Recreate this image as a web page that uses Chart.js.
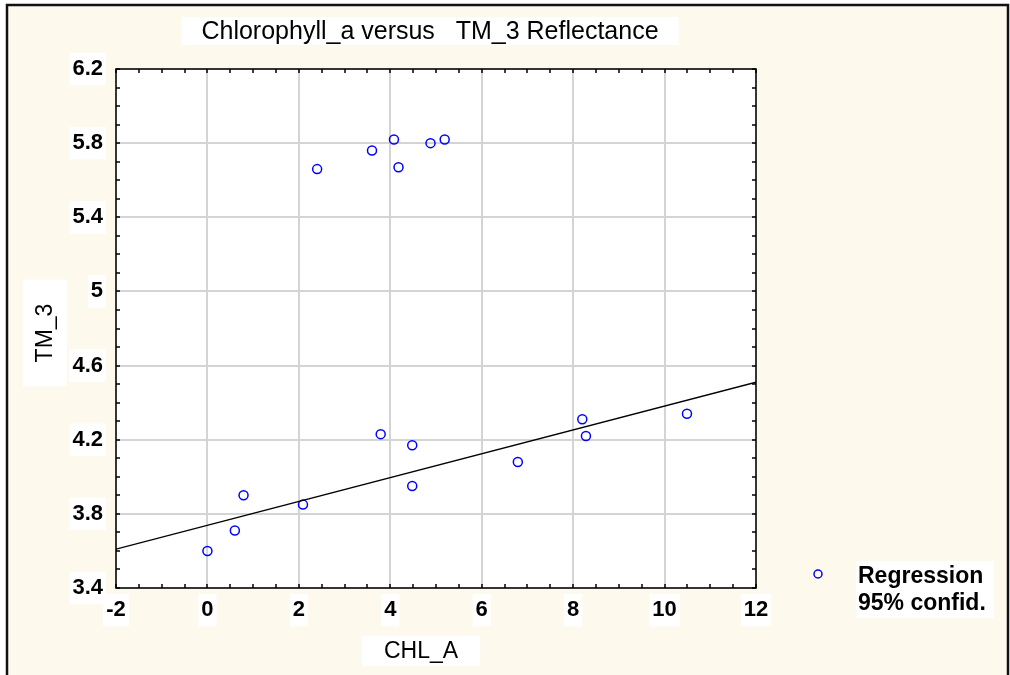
<!DOCTYPE html>
<html>
<head>
<meta charset="utf-8">
<script src="https://cdn.jsdelivr.net/npm/chart.js@4/dist/chart.umd.min.js"></script>
<style>
  html, body { margin: 0; padding: 0; background: #fff; }
  #wrap { width: 1010px; height: 675px; position: relative; }
</style>
</head>
<body>
<div id="wrap"><canvas id="chart" width="1010" height="675"></canvas></div>
<script>
const chlA = [2.40, 3.60, 4.08, 4.18, 4.88, 5.19, 0.00, 0.60, 0.79, 2.09, 3.79, 4.48, 4.48, 6.79, 8.20, 8.28, 10.49];
const tm3  = [5.66, 5.76, 5.82, 5.67, 5.80, 5.82, 3.60, 3.71, 3.90, 3.85, 4.23, 4.17, 3.95, 4.08, 4.31, 4.22, 4.34];

// Regression line end points
const regX = [-2, 12];
const regY = [3.61, 4.51];

// Axis settings
const xTicks = [-2, 0, 2, 4, 6, 8, 10, 12];
const yTicks = [3.4, 3.8, 4.2, 4.6, 5, 5.4, 5.8, 6.2];

const title = 'Chlorophyll_a versus   TM_3 Reflectance';
const xTitle = 'CHL_A';
const yTitle = 'TM_3';
const legendLines = ['Regression', '95% confid.'];

const cream = '#fef9ed';
const pointBlue = '#0000ff';
const fontFamily = '"Liberation Sans", Arial, sans-serif';

// Background, frame, minor ticks, titles and legend
const decorations = {
  id: 'decorations',
  beforeDraw(chart) {
    const ctx = chart.ctx;
    ctx.save();
    ctx.fillStyle = '#ffffff';
    ctx.fillRect(0, 0, chart.width, chart.height);
    ctx.fillStyle = cream;
    ctx.fillRect(7, 5, 1002, 670);
    ctx.strokeStyle = '#111';
    ctx.lineWidth = 2.5;
    ctx.beginPath();
    ctx.moveTo(7, 675);
    ctx.lineTo(7, 5);
    ctx.lineTo(1008, 5);
    ctx.lineTo(1008, 675);
    ctx.stroke();

    const a = chart.chartArea;
    ctx.fillStyle = '#ffffff';
    ctx.fillRect(a.left, a.top, a.right - a.left, a.bottom - a.top);
    ctx.restore();
  },
  afterDraw(chart) {
    const ctx = chart.ctx;
    const a = chart.chartArea;
    const xs = chart.scales.x;
    const ys = chart.scales.y;
    ctx.save();

    // frame round the plot
    ctx.strokeStyle = '#000';
    ctx.lineWidth = 1.5;
    ctx.strokeRect(a.left, a.top, a.right - a.left, a.bottom - a.top);

    // inward ticks on all four sides
    ctx.lineWidth = 1.5;
    ctx.beginPath();
    for (let v = xs.min; v <= xs.max + 1e-9; v += 0.5) {
      const px = Math.round(xs.getPixelForValue(v));
      ctx.moveTo(px, a.bottom); ctx.lineTo(px, a.bottom - 4);
      ctx.moveTo(px, a.top); ctx.lineTo(px, a.top + 4);
    }
    for (let v = ys.min; v <= ys.max + 1e-9; v += 0.1) {
      const py = Math.round(ys.getPixelForValue(v));
      ctx.moveTo(a.left, py); ctx.lineTo(a.left + 4, py);
      ctx.moveTo(a.right, py); ctx.lineTo(a.right - 4, py);
    }
    ctx.stroke();

    const box = (text, cx, cy, font, padX, padY, rot) => {
      ctx.save();
      ctx.font = font;
      ctx.translate(cx, cy);
      if (rot) ctx.rotate(rot);
      const w = ctx.measureText(text).width;
      ctx.fillStyle = '#fff';
      ctx.fillRect(-w / 2 - padX, -13 - padY, w + padX * 2, 26 + padY * 2);
      ctx.fillStyle = '#000';
      ctx.textAlign = 'center';
      ctx.textBaseline = 'middle';
      ctx.fillText(text, 0, 1);
      ctx.restore();
    };

    box(title, 430, 31, '25px ' + fontFamily, 20, 1);
    box(xTitle, 421, 651, '23px ' + fontFamily, 22, 2);
    box(yTitle, 45, 333, '23px ' + fontFamily, 24, 9, -Math.PI / 2);

    // legend
    ctx.strokeStyle = pointBlue;
    ctx.lineWidth = 1.5;
    ctx.beginPath();
    ctx.arc(818, 574, 4, 0, Math.PI * 2);
    ctx.stroke();
    ctx.font = 'bold 23px ' + fontFamily;
    ctx.fillStyle = '#fff';
    ctx.fillRect(856, 561, 138, 57);
    ctx.fillStyle = '#000';
    ctx.textBaseline = 'middle';
    ctx.fillText(legendLines[0], 858, 577);
    ctx.fillText(legendLines[1], 858, 604);

    ctx.restore();
  }
};

const tickFont = { family: fontFamily, size: 22, weight: 'bold' };

const ctx = document.getElementById('chart').getContext('2d');
new Chart(ctx, {
  type: 'scatter',
  data: {
    datasets: [
      {
        label: 'Regression line',
        type: 'line',
        data: regX.map((x, i) => ({ x, y: regY[i] })),
        borderColor: '#000',
        borderWidth: 1.3,
        pointRadius: 0,
        fill: false
      },
      {
        label: 'TM_3',
        data: chlA.map((x, i) => ({ x, y: tm3[i] })),
        borderColor: pointBlue,
        backgroundColor: 'rgba(0,0,0,0)',
        borderWidth: 1.5,
        pointRadius: 4.5,
        pointStyle: 'circle'
      }
    ]
  },
  options: {
    responsive: false,
    animation: false,
    layout: { padding: { left: 0, top: 69, right: 254, bottom: 0 } },
    plugins: {
      legend: { display: false },
      title: { display: false },
      tooltip: { enabled: false }
    },
    scales: {
      x: {
        type: 'linear',
        min: -2,
        max: 12,
        afterBuildTicks(scale) { scale.ticks = xTicks.map(v => ({ value: v })); },
        afterFit(scale) { scale.height = 87; },
        grid: { color: '#d4d4d4', lineWidth: 2, drawTicks: false },
        border: { display: false },
        ticks: {
          padding: 9,
          color: '#000',
          font: tickFont,
          showLabelBackdrop: true,
          backdropColor: '#fff',
          backdropPadding: 3,
          maxRotation: 0
        }
      },
      y: {
        type: 'linear',
        min: 3.4,
        max: 6.2,
        afterBuildTicks(scale) { scale.ticks = yTicks.map(v => ({ value: v })); },
        afterFit(scale) { scale.width = 116; },
        grid: { color: '#d4d4d4', lineWidth: 2, drawTicks: false },
        border: { display: false },
        ticks: {
          padding: 13,
          color: '#000',
          font: tickFont,
          showLabelBackdrop: true,
          backdropColor: '#fff',
          backdropPadding: 3,
          callback: v => String(Math.round(v * 10) / 10)
        }
      }
    }
  },
  plugins: [decorations]
});
</script>
</body>
</html>
